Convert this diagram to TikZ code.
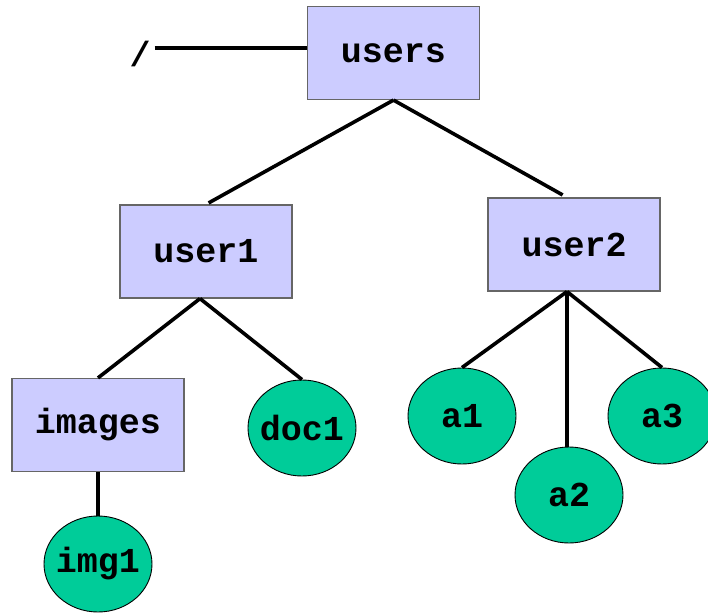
\documentclass[tikz,border=0pt]{standalone}
\usepackage{fontspec}
\setmonofont{Liberation Mono}
\usetikzlibrary{positioning, shapes.geometric}
\definecolor{dirblue}{HTML}{CCCCFF}
\definecolor{filegreen}{HTML}{00CC99}

\begin{document}
\begin{tikzpicture}[x=1pt, y=1pt, on grid,
    lbl/.style={font=\ttfamily\bfseries\fontsize{35}{35}\selectfont},
    dir/.style={lbl, draw=black!60, line width=1.2pt, fill=dirblue,
      minimum width=172pt, minimum height=93pt},
    file/.style={lbl, ellipse, draw, line width=0.9pt, fill=filegreen,
      minimum width=108pt, minimum height=96pt, inner ysep=0pt, inner xsep=-8pt},
    edge/.style={line width=3.6pt}]
\useasboundingbox (0,0) rectangle (708,-612);
%tree
  \node [dir] (users) at (393.5,-53) {users};
  \node [lbl, inner sep=4pt] (root) at (140,-54) {/};
  \node [dir, below left=198.5pt and 187.5pt of users] (user1) {user1};
  \node [dir, below right=191.5pt and 180.5pt of users] (user2) {user2};
  \node [dir, below left=173.5pt and 108pt of user1] (images) {images};
  \node [file, below right=176.5pt and 96pt of user1] (doc1) {doc1};
  \node [file, below=139pt of images] (img1) {img1};
  \node [file, below left=171.5pt and 112pt of user2] (a1) {a1};
  \node [file, below left=250.5pt and 5pt of user2] (a2) {a2};
  \node [file, below right=171.5pt and 88pt of user2] (a3) {a3};
  \coordinate (u1b) at ([xshift=-6pt]user1.south);
  \coordinate (u2b) at ([xshift=-7pt]user2.south);
  \draw [edge] (root.east |- 0,-48) -- (users.west |- 0,-48);
  \draw [edge, shorten >=3pt] (users.south) -- (user1.north);
  \draw [edge, shorten >=5pt] (users.south) -- ([xshift=-7pt]user2.north);
  \draw [edge] (u1b) -- (images.north);
  \draw [edge] (u1b) -- (doc1.north);
  \draw [edge] (images.south) -- (img1.north);
  \draw [edge] (u2b) -- (a1.north);
  \draw [edge] (u2b) -- ([xshift=-2pt]a2.north);
  \draw [edge] (u2b) -- (a3.north);
\end{tikzpicture}
\end{document}
